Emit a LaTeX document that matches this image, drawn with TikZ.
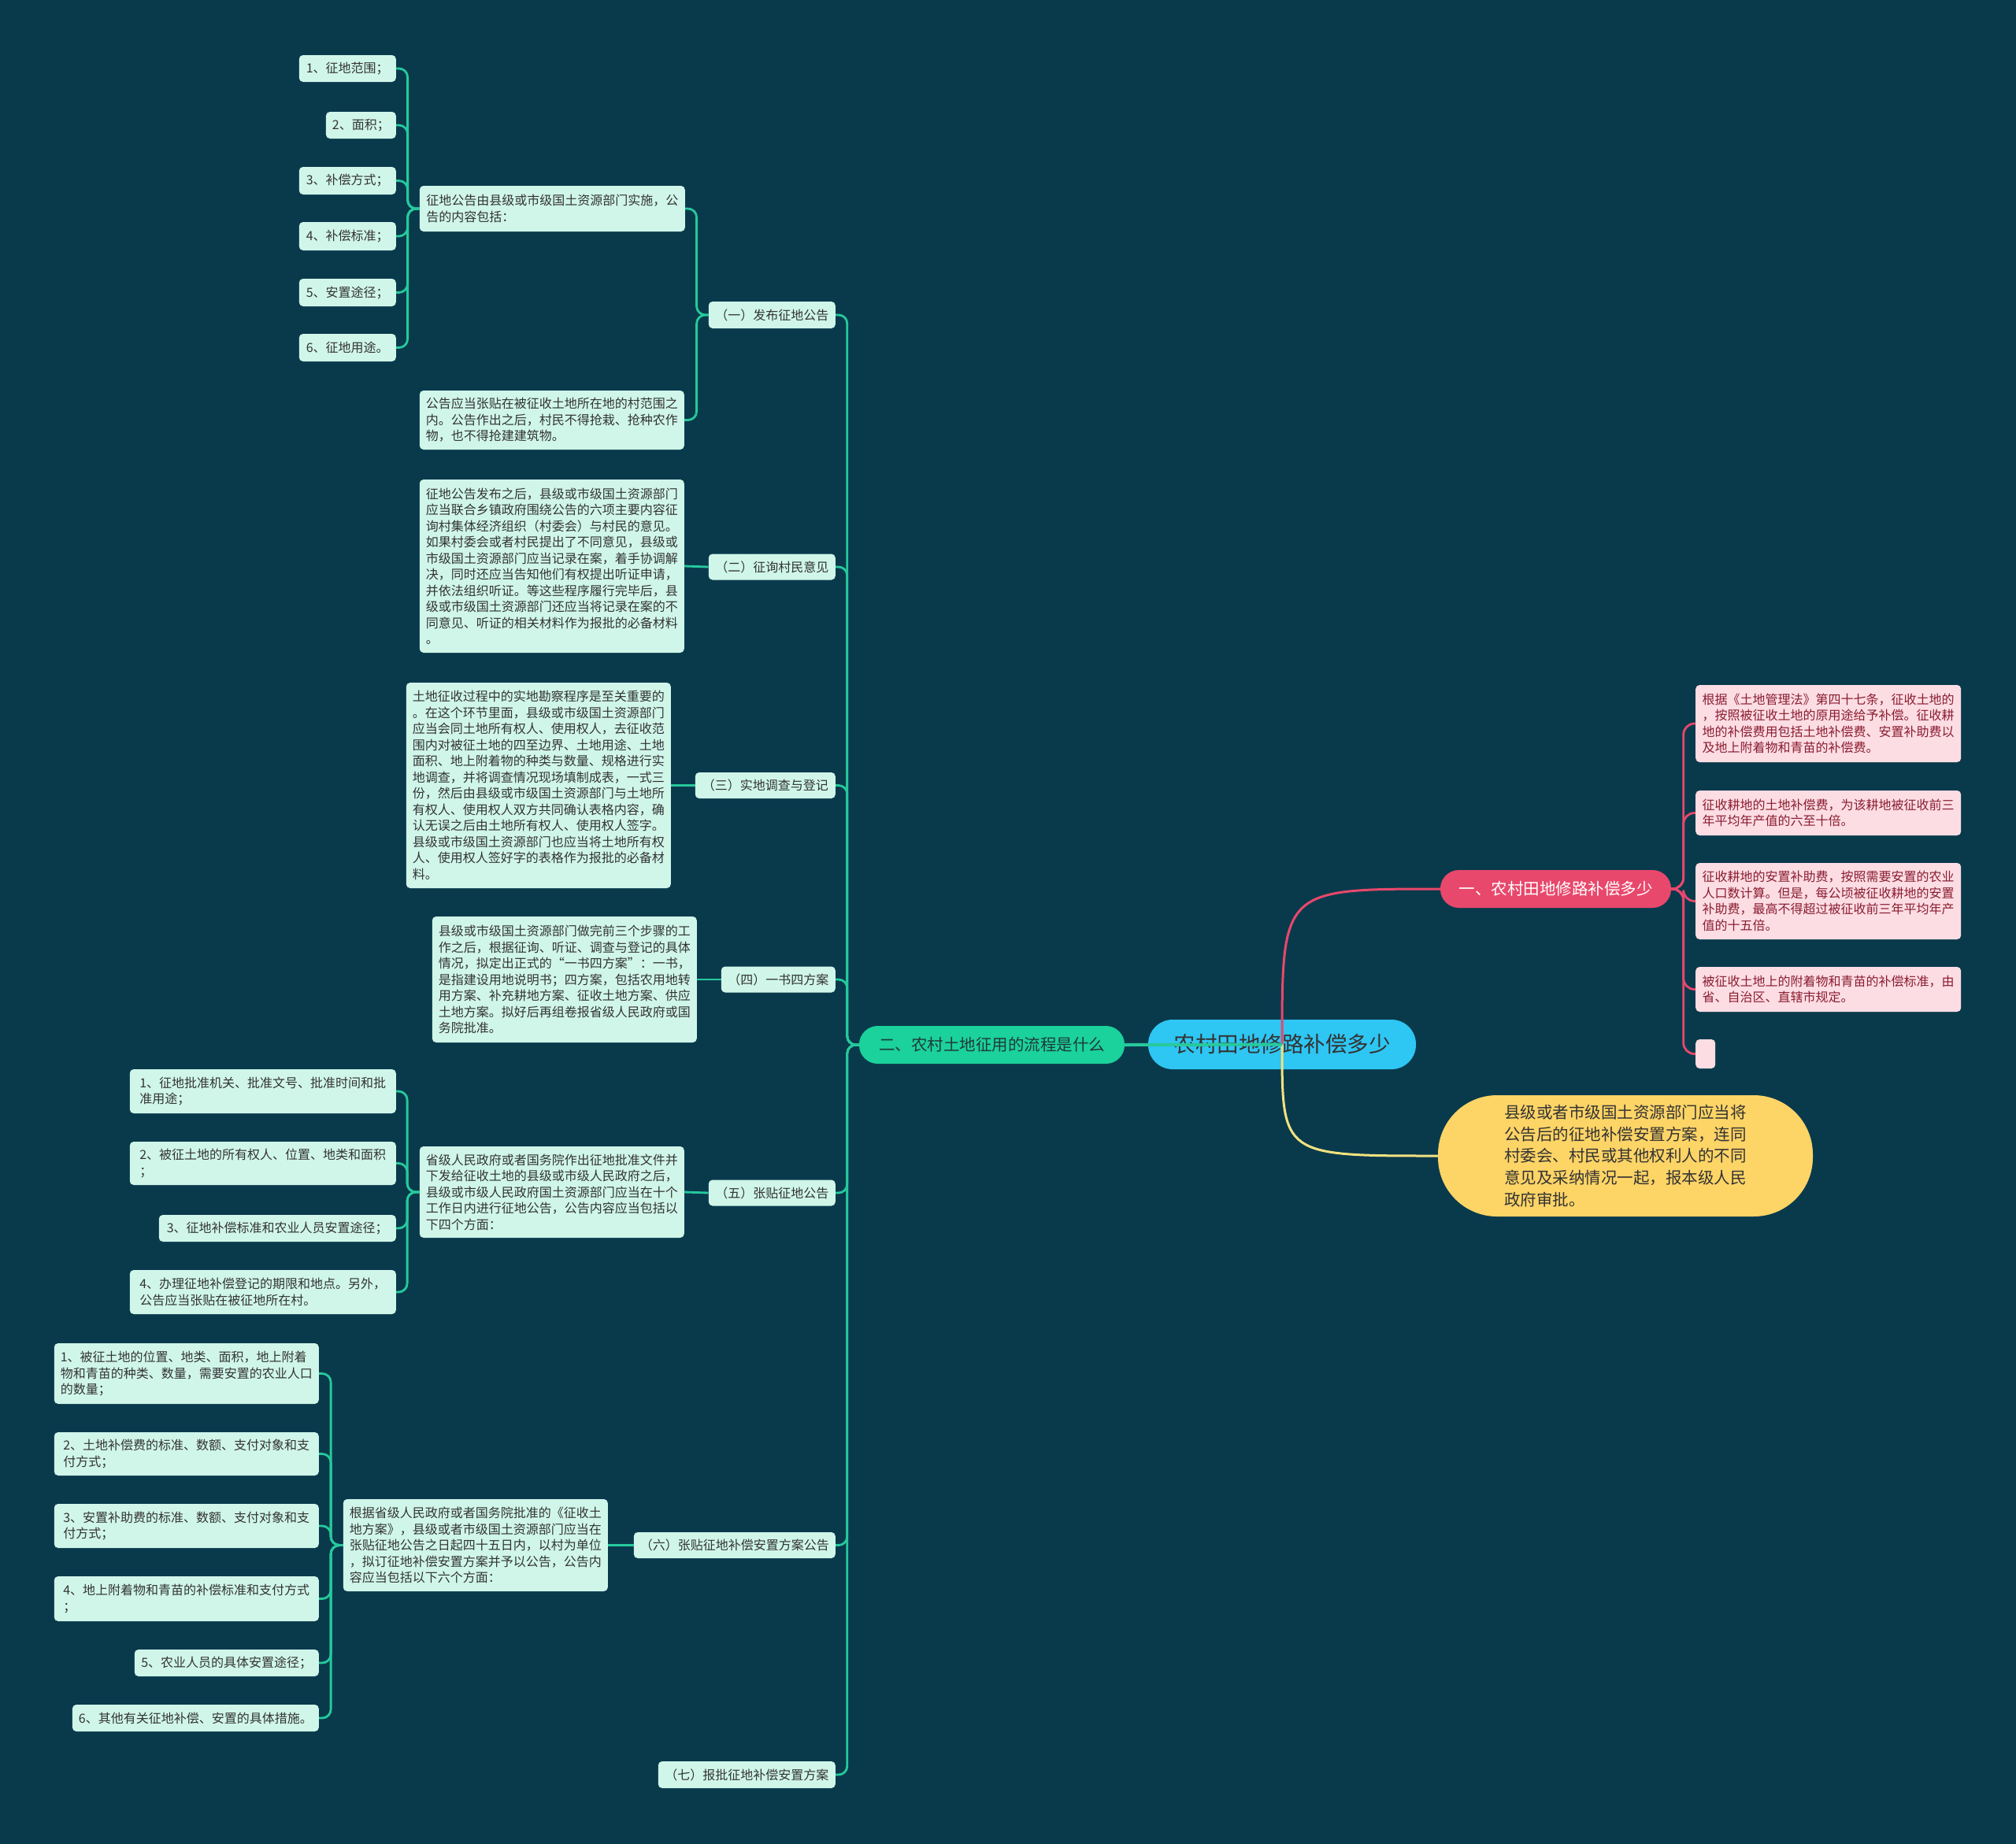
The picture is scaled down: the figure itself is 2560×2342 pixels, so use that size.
\documentclass[tikz,border=0pt]{standalone}
\usepackage{fontspec}
\setmainfont{Noto Sans CJK SC}
\definecolor{bg}{HTML}{093A4C}
\definecolor{leafg}{HTML}{D0F6EA}
\definecolor{lineg}{HTML}{26C99C}
\definecolor{brg}{HTML}{1BD19C}
\definecolor{rootb}{HTML}{2EC6F3}
\definecolor{brp}{HTML}{E8486C}
\definecolor{leafp}{HTML}{FCDDE3}
\definecolor{txtp}{HTML}{8A1C30}
\definecolor{yel}{HTML}{FDD466}
\definecolor{liney}{HTML}{F3E27F}
\definecolor{txtd}{HTML}{333333}
\definecolor{txtb}{HTML}{1F3B36}
\tikzset{
  box/.style={rectangle, draw=none, rounded corners=5pt, align=left,
    font=\fontsize{16}{20.5}\selectfont, inner xsep=8pt, inner ysep=2pt},
  gleaf/.style={box, fill=leafg, text=txtd, anchor=east},
  pleaf/.style={box, fill=leafp, text=txtp, anchor=west},
  gl/.style={draw=lineg, line width=2.8pt, rounded corners=11pt},
  pl/.style={draw=brp, line width=2.8pt, rounded corners=14pt},
}
\begin{document}
\begin{tikzpicture}[x=1pt, y=-1pt]
\fill[bg] (0,0) rectangle (2560,2342);
\useasboundingbox (0,0) rectangle (2560,2342);

% root and main branches
\node[rectangle, fill=rootb, rounded corners=31pt, minimum width=340pt, minimum height=63pt,
  font=\fontsize{27.5}{30}\selectfont, text=txtd] (root) at (1628,1326.5) {农村田地修路补偿多少};
\node[rectangle, fill=brp, rounded corners=23.5pt, minimum width=293pt, minimum height=48pt,
  font=\fontsize{20.5}{24}\selectfont, text=white] (b1) at (1975.5,1129) {一、农村田地修路补偿多少};
\node[rectangle, fill=yel, rounded corners=75pt, minimum width=476pt, minimum height=154pt,
  align=left, font=\fontsize{20.5}{27.7}\selectfont, text=txtd] (y1) at (2064,1468)
  {县级或者市级国土资源部门应当将\\公告后的征地补偿安置方案，连同\\村委会、村民或其他权利人的不同\\意见及采纳情况一起，报本级人民\\政府审批。};
\node[rectangle, fill=brg, rounded corners=23.5pt, minimum width=337pt, minimum height=48pt,
  font=\fontsize{20.5}{24}\selectfont, text=txtb] (b2) at (1259.5,1327) {二、农村土地征用的流程是什么};

% pink leaves
\node[pleaf, minimum width=337pt, minimum height=98pt] (p1) at (2153,919)
  {根据《土地管理法》第四十七条，征收土地的\\，按照被征收土地的原用途给予补偿。征收耕\\地的补偿费用包括土地补偿费、安置补助费以\\及地上附着物和青苗的补偿费。};
\node[pleaf, minimum width=337pt, minimum height=57pt] (p2) at (2153,1032.5)
  {征收耕地的土地补偿费，为该耕地被征收前三\\年平均年产值的六至十倍。};
\node[pleaf, minimum width=337pt, minimum height=97pt] (p3) at (2153,1144.5)
  {征收耕地的安置补助费，按照需要安置的农业\\人口数计算。但是，每公顷被征收耕地的安置\\补助费，最高不得超过被征收前三年平均年产\\值的十五倍。};
\node[pleaf, minimum width=337pt, minimum height=57pt] (p4) at (2153,1256.5)
  {被征收土地上的附着物和青苗的补偿标准，由\\省、自治区、直辖市规定。};
\node[pleaf, inner xsep=0pt, minimum width=25pt, minimum height=37pt] (p5) at (2153,1338.5) {};

% steps
\node[gleaf, minimum width=161pt, minimum height=34pt] (s1) at (1061,400) {（一）发布征地公告};
\node[gleaf, minimum width=161pt, minimum height=33pt] (s2) at (1061,720) {（二）征询村民意见};
\node[gleaf, minimum width=178pt, minimum height=33pt] (s3) at (1061,997.5) {（三）实地调查与登记};
\node[gleaf, minimum width=145pt, minimum height=33pt] (s4) at (1061,1244) {（四）一书四方案};
\node[gleaf, minimum width=161pt, minimum height=33pt] (s5) at (1061,1515) {（五）张贴征地公告};
\node[gleaf, minimum width=256pt, minimum height=33pt] (s6) at (1061,1962.5) {（六）张贴征地补偿安置方案公告};
\node[gleaf, minimum width=225pt, minimum height=34pt] (s7) at (1061,2254) {（七）报批征地补偿安置方案};

% step details
\node[gleaf, minimum width=337pt, minimum height=58pt] (a1) at (870,265)
  {征地公告由县级或市级国土资源部门实施，公\\告的内容包括：};
\node[gleaf, minimum width=335pt, minimum height=75pt] (a2) at (869,533.5)
  {公告应当张贴在被征收土地所在地的村范围之\\内。公告作出之后，村民不得抢栽、抢种农作\\物，也不得抢建建筑物。};
\node[gleaf, minimum width=335pt, minimum height=220pt] (t2) at (869,719)
  {征地公告发布之后，县级或市级国土资源部门\\应当联合乡镇政府围绕公告的六项主要内容征\\询村集体经济组织（村委会）与村民的意见。\\如果村委会或者村民提出了不同意见，县级或\\市级国土资源部门应当记录在案，着手协调解\\决，同时还应当告知他们有权提出听证申请，\\并依法组织听证。等这些程序履行完毕后，县\\级或市级国土资源部门还应当将记录在案的不\\同意见、听证的相关材料作为报批的必备材料\\。};
\node[gleaf, minimum width=334pt, minimum height=261pt] (t3) at (852,997.5)
  {土地征收过程中的实地勘察程序是至关重要的\\。在这个环节里面，县级或市级国土资源部门\\应当会同土地所有权人、使用权人，去征收范\\围内对被征土地的四至边界、土地用途、土地\\面积、地上附着物的种类与数量、规格进行实\\地调查，并将调查情况现场填制成表，一式三\\份，然后由县级或市级国土资源部门与土地所\\有权人、使用权人双方共同确认表格内容，确\\认无误之后由土地所有权人、使用权人签字。\\县级或市级国土资源部门也应当将土地所有权\\人、使用权人签好字的表格作为报批的必备材\\料。};
\node[gleaf, minimum width=336pt, minimum height=160pt] (t4) at (885,1244)
  {县级或市级国土资源部门做完前三个步骤的工\\作之后，根据征询、听证、调查与登记的具体\\情况，拟定出正式的“一书四方案”：一书，\\是指建设用地说明书；四方案，包括农用地转\\用方案、补充耕地方案、征收土地方案、供应\\土地方案。拟好后再组卷报省级人民政府或国\\务院批准。};
\node[gleaf, minimum width=335pt, minimum height=116pt] (t5) at (869,1514)
  {省级人民政府或者国务院作出征地批准文件并\\下发给征收土地的县级或市级人民政府之后，\\县级或市级人民政府国土资源部门应当在十个\\工作日内进行征地公告，公告内容应当包括以\\下四个方面：};
\node[gleaf, minimum width=336pt, minimum height=117pt] (t6) at (772,1962.5)
  {根据省级人民政府或者国务院批准的《征收土\\地方案》，县级或者市级国土资源部门应当在\\张贴征地公告之日起四十五日内，以村为单位\\，拟订征地补偿安置方案并予以公告，公告内\\容应当包括以下六个方面：};

% items of a1
\node[gleaf, minimum width=123pt, minimum height=34pt] (c1) at (503,87) {1、征地范围；};
\node[gleaf, minimum width=87pt, minimum height=34pt] (c2) at (503,159) {2、面积；};
\node[gleaf, minimum width=123pt, minimum height=35pt] (c3) at (503,229.5) {3、补偿方式；};
\node[gleaf, minimum width=123pt, minimum height=36pt] (c4) at (503,300) {4、补偿标准；};
\node[gleaf, minimum width=123pt, minimum height=35pt] (c5) at (503,371.5) {5、安置途径；};
\node[gleaf, minimum width=123pt, minimum height=35pt] (c6) at (503,441.5) {6、征地用途。};

% items of t5
\node[gleaf, minimum width=338pt, minimum height=56pt] (f1) at (503,1386)
  {1、征地批准机关、批准文号、批准时间和批\\准用途；};
\node[gleaf, minimum width=338pt, minimum height=55pt] (f2) at (503,1477.5)
  {2、被征土地的所有权人、位置、地类和面积\\；};
\node[gleaf, minimum width=301pt, minimum height=34pt] (f3) at (503,1560)
  {3、征地补偿标准和农业人员安置途径；};
\node[gleaf, minimum width=338pt, minimum height=56pt] (f4) at (503,1641)
  {4、办理征地补偿登记的期限和地点。另外，\\公告应当张贴在被征地所在村。};

% items of t6
\node[gleaf, minimum width=336pt, minimum height=77pt] (g1) at (405,1744.5)
  {1、被征土地的位置、地类、面积，地上附着\\物和青苗的种类、数量，需要安置的农业人口\\的数量；};
\node[gleaf, minimum width=336pt, minimum height=55pt] (g2) at (405,1846.5)
  {2、土地补偿费的标准、数额、支付对象和支\\付方式；};
\node[gleaf, minimum width=336pt, minimum height=56pt] (g3) at (405,1938)
  {3、安置补助费的标准、数额、支付对象和支\\付方式；};
\node[gleaf, minimum width=336pt, minimum height=57pt] (g4) at (405,2030.5)
  {4、地上附着物和青苗的补偿标准和支付方式\\；};
\node[gleaf, minimum width=234pt, minimum height=34pt] (g5) at (405,2112)
  {5、农业人员的具体安置途径；};
\node[gleaf, minimum width=312pt, minimum height=34pt] (g6) at (405,2182)
  {6、其他有关征地补偿、安置的具体措施。};

% connectors from root
\draw[draw=brp, line width=3pt] (root.center) .. controls (root.center |- b1.west) .. (b1.west);
\draw[draw=liney, line width=3pt] (root.center) .. controls (root.center |- y1.west) .. (y1.west);
\draw[draw=lineg, line width=4pt] (root.center) -- (b2.east);

% pink branch
\foreach \n in {p1,p2,p3,p4,p5}
  \draw[pl] (\n.west) -| ([xshift=15.5pt]b1.east) [sharp corners] -- (b1.east);

% green branch
\foreach \n in {s1,s2,s3,s4,s5,s6,s7}
  \draw[gl] (\n.east) -| ([xshift=-15pt]b2.west) [sharp corners] -- (b2.west);
\foreach \n in {a1,a2}
  \draw[gl] (\n.east) -| ([xshift=-15pt]s1.west) [sharp corners] -- (s1.west);
\draw[gl] (s2.west) -- (t2.east);
\draw[gl] (s3.west) -- (t3.east);
\draw[gl] (s4.west) -- (t4.east);
\draw[gl] (s5.west) -- (t5.east);
\draw[gl] (s6.west) -- (t6.east);
\foreach \n in {c1,c2,c3,c4,c5,c6}
  \draw[gl] (\n.east) -| ([xshift=-15pt]a1.west) [sharp corners] -- (a1.west);
\foreach \n in {f1,f2,f3,f4}
  \draw[gl] (\n.east) -| ([xshift=-15.5pt]t5.west) [sharp corners] -- (t5.west);
\foreach \n in {g1,g2,g3,g4,g5,g6}
  \draw[gl] (\n.east) -| ([xshift=-15.5pt]t6.west) [sharp corners] -- (t6.west);
\end{tikzpicture}
\end{document}
